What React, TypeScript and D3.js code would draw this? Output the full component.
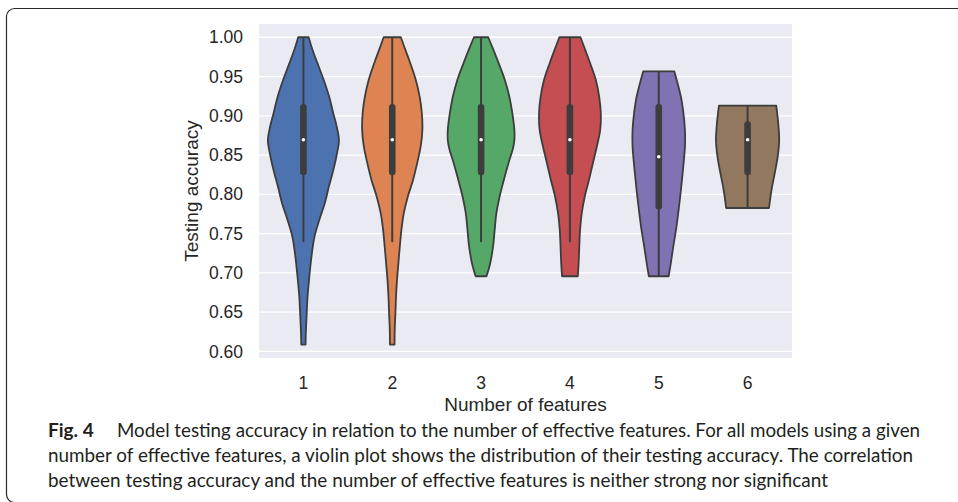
import React, { useEffect, useRef } from 'react';
import * as d3 from 'd3';

// number of effective features
const categories = ['1', '2', '3', '4', '5', '6'];
const yTicks = [0.6, 0.65, 0.7, 0.75, 0.8, 0.85, 0.9, 0.95, 1.0];
const yLimits = [0.5916, 1.0169];

// kernel density outlines [accuracy, density]
const density1 = [
    [1.0, 0.96], [0.984, 1.66], [0.967, 2.56], [0.946, 3.7], [0.924, 4.73], [0.903, 5.47],
    [0.886, 6.1], [0.869, 6.5], [0.852, 6.14], [0.831, 5.47], [0.81, 4.66], [0.789, 3.92],
    [0.768, 2.93], [0.746, 2.02], [0.721, 1.48], [0.695, 1.08], [0.67, 0.76], [0.645, 0.58],
    [0.619, 0.42], [0.6087, 0.4],
];
const density2 = [
    [1.0, 1.57], [0.984, 2.4], [0.967, 3.3], [0.946, 4.3], [0.924, 5.02], [0.903, 5.42],
    [0.882, 5.51], [0.861, 5.2], [0.84, 4.57], [0.818, 3.79], [0.797, 2.84], [0.776, 2.11],
    [0.755, 1.68], [0.734, 1.39], [0.712, 1.12], [0.691, 0.87], [0.67, 0.69], [0.649, 0.58],
    [0.628, 0.45], [0.6087, 0.42],
];
const density3 = [
    [1.0, 1.3], [0.984, 2.26], [0.967, 3.21], [0.946, 4.33], [0.924, 5.18], [0.903, 5.72],
    [0.882, 6.09], [0.869, 6.09], [0.857, 5.78], [0.84, 5.02], [0.818, 4.15], [0.797, 3.38],
    [0.776, 2.8], [0.755, 2.49], [0.734, 2.2], [0.712, 1.66], [0.6957, 0.99],
];
const density4 = [
    [1.0, 1.93], [0.984, 2.8], [0.967, 3.7], [0.946, 4.73], [0.924, 5.36], [0.903, 5.65],
    [0.882, 5.54], [0.861, 4.93], [0.84, 4.21], [0.818, 3.47], [0.797, 2.71], [0.776, 2.17],
    [0.755, 1.86], [0.734, 1.72], [0.712, 1.59], [0.6957, 1.44],
];
const density5 = [
    [0.9565, 2.85], [0.924, 4.06], [0.903, 4.52], [0.882, 4.79], [0.861, 4.79], [0.84, 4.55],
    [0.818, 4.24], [0.797, 3.92], [0.776, 3.56], [0.755, 3.16], [0.734, 2.67], [0.712, 2.2],
    [0.6957, 1.81],
];
const density6 = [
    [0.913, 5.24], [0.891, 5.6], [0.869, 5.78], [0.848, 5.51], [0.827, 4.97], [0.806, 4.39],
    [0.7826, 3.92],
];
const densities = [density1, density2, density3, density4, density5, density6];

// inner box stats per category
const whiskerLow = [0.7391, 0.7391, 0.7391, 0.7391, 0.6957, 0.7826];
const quartile1 = [0.8261, 0.8261, 0.8261, 0.8261, 0.7826, 0.8261];
const medians = [0.8696, 0.8696, 0.8696, 0.8696, 0.8478, 0.8696];
const quartile3 = [0.913, 0.913, 0.913, 0.913, 0.913, 0.8913];
const whiskerHigh = [1.0, 1.0, 1.0, 1.0, 0.9565, 0.913];

const palette = ['#4C72B0', '#DD8452', '#55A868', '#C44E52', '#8172B3', '#937860'];

const captionLines = [
    'Model testing accuracy in relation to the number of effective features. For all models using a given',
    'number of effective features, a violin plot shows the distribution of their testing accuracy. The correlation',
    'between testing accuracy and the number of effective features is neither strong nor significant',
];

const App = () => {
    const svgRef = useRef(null);

    useEffect(() => {
        const svg = d3.select(svgRef.current);
        svg.selectAll('*').remove();

        const width = 958;
        const height = 502;
        const marginLeft = 259;
        const marginRight = 792;
        const marginTop = 24;
        const marginBottom = 358;
        const axisFont = '"Liberation Sans", Arial, sans-serif';
        const ink = '#3d3d3d';

        svg.append('rect').attr('width', width).attr('height', height).attr('fill', '#fff');

        // figure frame
        svg.append('rect')
            .attr('x', 6.5).attr('y', 8.5)
            .attr('width', 1000).attr('height', 494)
            .attr('rx', 8)
            .attr('fill', 'none')
            .attr('stroke', '#2b2b2b')
            .attr('stroke-width', 1.2);

        const x = d3.scaleBand().domain(categories).range([marginLeft, marginRight]).padding(0);
        const y = d3.scaleLinear().domain(yLimits).range([marginBottom, marginTop]);
        const maxDensity = d3.max(densities.flat(), d => d[1]);
        const w = d3.scaleLinear().domain([0, maxDensity]).range([0, x.bandwidth() * 0.4]);

        svg.append('rect')
            .attr('x', marginLeft).attr('y', marginTop)
            .attr('width', marginRight - marginLeft).attr('height', marginBottom - marginTop)
            .attr('fill', '#EAEAF2');

        // grid
        svg.append('g').selectAll('line')
            .data(yTicks)
            .join('line')
            .attr('x1', marginLeft).attr('x2', marginRight)
            .attr('y1', d => y(d)).attr('y2', d => y(d))
            .attr('stroke', '#fff')
            .attr('stroke-width', 1.3);

        // violins
        categories.forEach((c, i) => {
            const cx = x(c) + x.bandwidth() / 2;
            const area = d3.area()
                .y(d => y(d[0]))
                .x0(d => cx - w(d[1]))
                .x1(d => cx + w(d[1]))
                .curve(d3.curveCatmullRom);

            svg.append('path')
                .attr('d', area(densities[i]))
                .attr('fill', palette[i])
                .attr('stroke', ink)
                .attr('stroke-width', 1.8)
                .attr('stroke-linejoin', 'round');

            svg.append('line')
                .attr('x1', cx).attr('x2', cx)
                .attr('y1', y(whiskerLow[i])).attr('y2', y(whiskerHigh[i]))
                .attr('stroke', ink)
                .attr('stroke-width', 2);

            svg.append('rect')
                .attr('x', cx - 3.3)
                .attr('y', y(quartile3[i]) - 1.5)
                .attr('width', 6.6)
                .attr('height', y(quartile1[i]) - y(quartile3[i]) + 3)
                .attr('rx', 3.3)
                .attr('fill', ink);

            svg.append('circle')
                .attr('cx', cx).attr('cy', y(medians[i]))
                .attr('r', 1.8)
                .attr('fill', '#fff');
        });

        // y tick labels
        svg.append('g').selectAll('text')
            .data(yTicks)
            .join('text')
            .attr('x', 243)
            .attr('y', d => y(d))
            .attr('dy', '0.35em')
            .attr('text-anchor', 'end')
            .attr('font-family', axisFont)
            .attr('font-size', 17.5)
            .attr('fill', '#262626')
            .text(d => d3.format('.2f')(d));

        // x tick labels
        svg.append('g').selectAll('text')
            .data(categories)
            .join('text')
            .attr('x', d => x(d) + x.bandwidth() / 2)
            .attr('y', 388.5)
            .attr('text-anchor', 'middle')
            .attr('font-family', axisFont)
            .attr('font-size', 17.5)
            .attr('fill', '#262626')
            .text(d => d);

        svg.append('text')
            .attr('transform', `translate(197.5, ${(marginTop + marginBottom) / 2}) rotate(-90)`)
            .attr('text-anchor', 'middle')
            .attr('font-family', axisFont)
            .attr('font-size', 19)
            .attr('fill', '#262626')
            .text('Testing accuracy');

        svg.append('text')
            .attr('x', (marginLeft + marginRight) / 2)
            .attr('y', 411)
            .attr('text-anchor', 'middle')
            .attr('font-family', axisFont)
            .attr('font-size', 19)
            .attr('fill', '#262626')
            .text('Number of features');

        // caption
        const captionFont = 'Lato, "Open Sans", sans-serif';
        svg.append('text')
            .attr('x', 48).attr('y', 437)
            .attr('font-family', captionFont)
            .attr('font-weight', 700)
            .attr('font-size', 19)
            .attr('fill', '#231f20')
            .text('Fig. 4');

        const starts = [117, 48, 48];
        const ends = [920, 913, 828];
        captionLines.forEach((line, i) => {
            svg.append('text')
                .attr('x', starts[i])
                .attr('y', 437 + i * 25)
                .attr('font-family', captionFont)
                .attr('font-size', 18.5)
                .attr('fill', '#231f20')
                .attr('textLength', ends[i] - starts[i])
                .attr('lengthAdjust', 'spacingAndGlyphs')
                .text(line);
        });
    }, []);

    return (
        <svg
            ref={svgRef}
            width={958}
            height={502}
            style={{ position: 'absolute', left: 0, top: 0 }}
        />
    );
};

export default App;
